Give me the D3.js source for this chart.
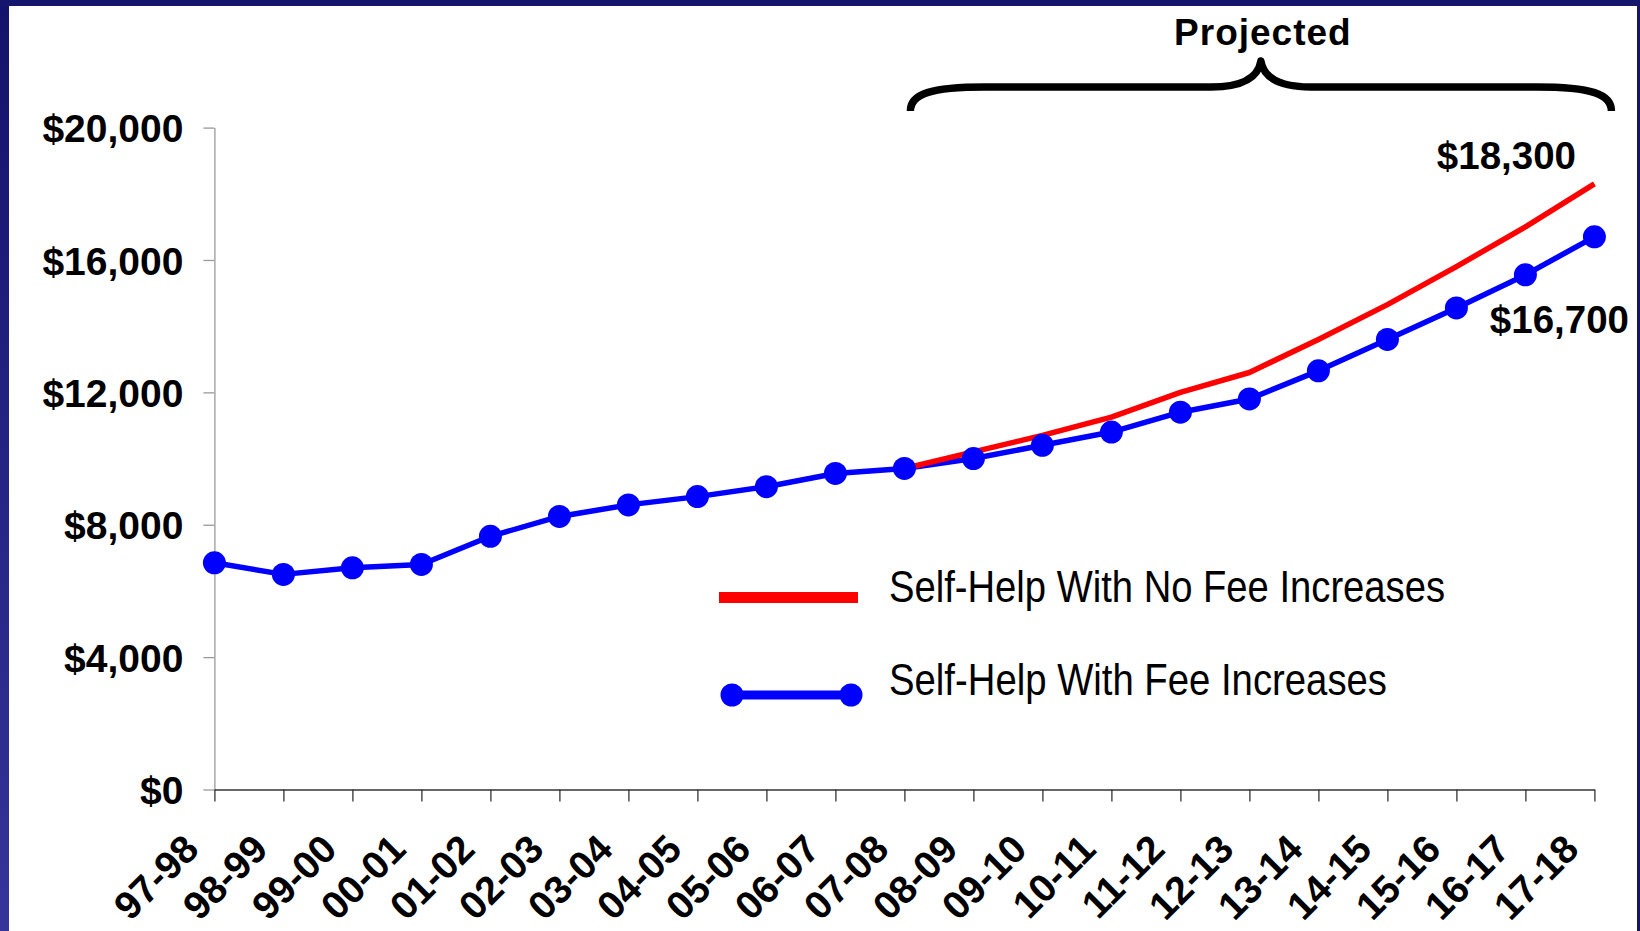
<!DOCTYPE html>
<html>
<head>
<meta charset="utf-8">
<script src="https://cdn.jsdelivr.net/npm/d3@7"></script>
<style>
  body { margin: 0; background: #fff; }
  svg { display: block; }
  .axis text { font-family: "Liberation Sans", Arial, sans-serif; font-weight: bold; font-size: 39px; fill: #000; }
  .y.axis path, .y.axis line { stroke: #9a9a9a; stroke-width: 1.3; }
  .x.axis path, .x.axis line { stroke: #333; stroke-width: 1.3; }
  .g-end-label, .g-bracket-label { font-family: "Liberation Sans", Arial, sans-serif; font-weight: bold; fill: #000; }
  .g-legend text { font-family: "Liberation Sans Narrow", "Arial Narrow", "Liberation Sans", Arial, sans-serif; font-size: 45px; fill: #000; }
</style>
</head>
<body>
<div class="g-chart"></div>
<script>
//Local data
var years = ["97-98", "98-99", "99-00", "00-01", "01-02", "02-03", "03-04", "04-05", "05-06", "06-07",
             "07-08", "08-09", "09-10", "10-11", "11-12", "12-13", "13-14", "14-15", "15-16", "16-17", "17-18"];

//Self-help with fee increases (blue, with markers)
var withFees = [6850, 6500, 6700, 6800, 7650, 8250, 8600, 8850, 9150, 9550,
                9700, 10000, 10400, 10800, 11400, 11800, 12650, 13600, 14550, 15550, 16700];

//Self-help with no fee increases (red, projected years only)
var noFees = [null, null, null, null, null, null, null, null, null, null,
              9700, 10200, 10700, 11250, 12000, 12600, 13600, 14650, 15800, 17000, 18300];

//Y axis tick values
var yTicks = [0, 4000, 8000, 12000, 16000, 20000];

//Legend names
var seriesNames = ["Self-Help With No Fee Increases", "Self-Help With Fee Increases"];

//Bracket text and first projected year
var bracketText = "Projected";
var projectedFrom = "07-08";

//Margin conventions
var margin = {top: 127.6, right: 45.6, bottom: 141.5, left: 214.4};
var fullWidth = 1640, fullHeight = 931;
var width = fullWidth - margin.left - margin.right,
    height = fullHeight - margin.top - margin.bottom;

var svg = d3.select(".g-chart").append("svg")
  .attr("width", fullWidth)
  .attr("height", fullHeight);

//Slide frame
var grad = svg.append("defs").append("linearGradient")
  .attr("id", "g-side")
  .attr("x1", 0).attr("y1", 0).attr("x2", 0).attr("y2", 1);
grad.append("stop").attr("offset", "0%").attr("stop-color", "#13136b");
grad.append("stop").attr("offset", "100%").attr("stop-color", "#35359b");

svg.append("rect").attr("width", fullWidth).attr("height", fullHeight).attr("fill", "#fff");
svg.append("rect").attr("width", 9).attr("height", fullHeight).attr("fill", "url(#g-side)");
svg.append("rect").attr("width", fullWidth).attr("height", 6).attr("fill", "#15156d");
svg.append("rect").attr("x", fullWidth - 3).attr("width", 3).attr("height", fullHeight).attr("fill", "#15156d");

var g = svg.append("g")
  .attr("transform", "translate(" + margin.left + "," + margin.top + ")");

//Scales
var xScale = d3.scalePoint()
  .domain(years)
  .range([0, width]);

var yScale = d3.scaleLinear()
  .domain([0, 20000])
  .range([height, 0]);

//Axes
var yAxis = d3.axisLeft(yScale)
  .tickValues(yTicks)
  .tickSize(11)
  .tickSizeOuter(0)
  .tickPadding(20)
  .tickFormat(function(d) { return "$" + d3.format(",")(d); });

var xAxis = d3.axisBottom(xScale)
  .tickSize(12)
  .tickSizeOuter(0);

g.append("g")
  .attr("class", "y axis")
  .call(yAxis)
  .selectAll("text")
  .attr("dy", "0.36em");

var xAxisGroup = g.append("g")
  .attr("class", "x axis")
  .attr("transform", "translate(0," + height + ")")
  .call(xAxis);

xAxisGroup.selectAll("text")
  .attr("y", null)
  .attr("dy", null)
  .attr("text-anchor", "end")
  .attr("transform", "translate(-14,62) rotate(-45)");

//Lines
var line = d3.line()
  .defined(function(d) { return d != null; })
  .x(function(d, i) { return xScale(years[i]); })
  .y(function(d) { return yScale(d); });

g.append("path")
  .datum(withFees)
  .attr("fill", "none")
  .attr("stroke", "#0000ff")
  .attr("stroke-width", 5.5)
  .attr("stroke-linejoin", "round")
  .attr("d", line);

g.append("path")
  .datum(noFees)
  .attr("fill", "none")
  .attr("stroke", "#ff0000")
  .attr("stroke-width", 5.5)
  .attr("stroke-linejoin", "round")
  .attr("d", line);

g.selectAll(".g-dot")
  .data(withFees)
  .enter()
  .append("circle")
  .attr("class", "g-dot")
  .attr("cx", function(d, i) { return xScale(years[i]); })
  .attr("cy", function(d) { return yScale(d); })
  .attr("r", 11.5)
  .attr("fill", "#0000ff");

//End labels
var last = years.length - 1;
g.append("text")
  .attr("class", "g-end-label")
  .attr("x", xScale(years[last]) - 88)
  .attr("y", yScale(noFees[last]) - 15)
  .attr("text-anchor", "middle")
  .style("font-size", "38.5px")
  .text("$" + d3.format(",")(noFees[last]));

g.append("text")
  .attr("class", "g-end-label")
  .attr("x", xScale(years[last]) - 35)
  .attr("y", yScale(withFees[last]) + 96)
  .attr("text-anchor", "middle")
  .style("font-size", "38.5px")
  .text("$" + d3.format(",")(withFees[last]));

//Projected bracket
var bl = xScale(projectedFrom) + 6,
    br = xScale(years[last]) + 17,
    bm = (bl + br) / 2,
    yEnd = 111 - margin.top,
    yMid = 87 - margin.top,
    yTop = 61 - margin.top;

var bracket = d3.path();
bracket.moveTo(bl, yEnd);
bracket.bezierCurveTo(bl, yMid + 7, bl + 20, yMid, bl + 75, yMid);
bracket.lineTo(bm - 50, yMid);
bracket.bezierCurveTo(bm - 20, yMid, bm - 3, yMid - 8, bm, yTop);
bracket.bezierCurveTo(bm + 3, yMid - 8, bm + 20, yMid, bm + 50, yMid);
bracket.lineTo(br - 75, yMid);
bracket.bezierCurveTo(br - 20, yMid, br, yMid + 7, br, yEnd);

g.append("path")
  .attr("d", bracket.toString())
  .attr("fill", "none")
  .attr("stroke", "#000")
  .attr("stroke-width", 7.5)
  .attr("stroke-linejoin", "round");

g.append("text")
  .attr("class", "g-bracket-label")
  .attr("x", bm + 2)
  .attr("y", 45 - margin.top)
  .attr("text-anchor", "middle")
  .style("font-size", "37px")
  .style("letter-spacing", "1px")
  .text(bracketText);

//Legend
var legend = g.append("g")
  .attr("class", "g-legend")
  .attr("transform", "translate(" + (719 - margin.left) + "," + (597.5 - margin.top) + ")");

legend.append("line")
  .attr("x1", 0).attr("x2", 139)
  .attr("y1", 0).attr("y2", 0)
  .attr("stroke", "#ff0000")
  .attr("stroke-width", 11);

legend.append("line")
  .attr("x1", 13).attr("x2", 132)
  .attr("y1", 97.5).attr("y2", 97.5)
  .attr("stroke", "#0000ff")
  .attr("stroke-width", 9);

legend.selectAll(".g-legend-dot")
  .data([13, 132])
  .enter()
  .append("circle")
  .attr("class", "g-legend-dot")
  .attr("cx", function(d) { return d; })
  .attr("cy", 97.5)
  .attr("r", 11.5)
  .attr("fill", "#0000ff");

legend.selectAll(".g-legend-text")
  .data(seriesNames)
  .enter()
  .append("text")
  .attr("class", "g-legend-text")
  .attr("x", 170)
  .attr("y", function(d, i) { return i * 93 + 4; })
  .attr("textLength", function(d, i) { return i === 0 ? 556 : 498; })
  .attr("lengthAdjust", "spacingAndGlyphs")
  .text(function(d) { return d; });
</script>
</body>
</html>
